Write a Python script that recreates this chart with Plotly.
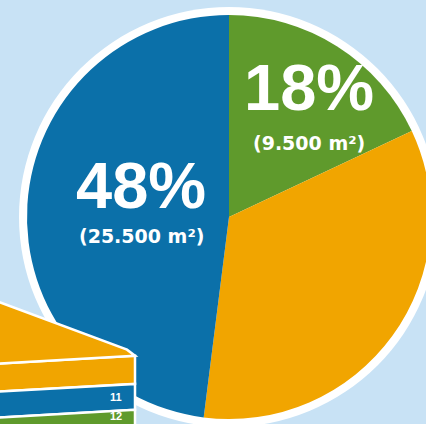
import plotly.graph_objects as go

# ---- data ----
slice_names = ["Green", "Orange", "Blue"]
slice_percent = [18, 34, 48]
slice_area_m2 = [9500, 18000, 25500]
slice_colors = ["#5f9a2c", "#f1a500", "#0b70a9"]
show_label = [True, False, True]

# stacked block fragment (bottom-left), top to bottom
block_names = ["Orange", "Blue", "Green"]
block_values = [12, 11, 12]
block_labels = ["", "11", "12"]
block_colors = ["#f1a500", "#0b70a9", "#5f9a2c"]

W, H = 438, 424   # slightly wider than the 426px window: the pie is cut at the right edge
BG = "#c8e2f5"
Y_MIN, Y_MAX = 5.9, 58.8


def px(x):
    return x / W


def py(y):
    return 1 - y / H


fig = go.Figure()

# pie
cx, cy, r = 229, 217, 202
fig.add_trace(go.Pie(
    labels=slice_names,
    values=slice_percent,
    marker=dict(colors=slice_colors, line=dict(width=0)),
    sort=False,
    direction="clockwise",
    rotation=0,
    textinfo="none",
    hoverinfo="skip",
    showlegend=False,
    domain=dict(x=[px(cx - r), px(cx + r)], y=[py(cy + r), py(cy - r)]),
))

shapes = []
# white ring behind the pie
ro = 210
shapes.append(dict(type="circle", xref="paper", yref="paper", layer="below",
                   x0=px(cx - ro), x1=px(cx + ro), y0=py(cy + ro), y1=py(cy - ro),
                   fillcolor="white", line=dict(width=0)))

annotations = []
label_pos = {  # centre positions in pixels for the two visible labels
    "Green": (309, 87, 143),
    "Blue": (141, 185, 236),
}
for name, pct, area, show in zip(slice_names, slice_percent, slice_area_m2, show_label):
    if not show:
        continue
    x, y1, y2 = label_pos[name]
    annotations.append(dict(x=px(x), y=py(y1), xref="paper", yref="paper",
                            text=f"<b>{pct}%</b>", showarrow=False,
                            font=dict(family="Liberation Sans", size=65, color="white"),
                            xanchor="center", yanchor="middle"))
    area_txt = f"{area:,}".replace(",", ".")
    annotations.append(dict(x=px(x), y=py(y2), xref="paper", yref="paper",
                            text=f"<b>({area_txt} m²)</b>", showarrow=False,
                            font=dict(family="DejaVu Sans", size=19, color="white"),
                            xanchor="center", yanchor="middle"))

# stacked block drawn on its own (hidden) axes so layers use the library's scale
bx1 = 135          # right edge of block in x-axis units
skew = 3.4         # left side lower than right (perspective)
top = sum(block_values)
level = top
for i, (name, val, lab, col) in enumerate(zip(block_names, block_values, block_labels, block_colors)):
    y_hi, y_lo = level, level - val
    shapes.append(dict(type="path", xref="x", yref="y", layer="above",
                       path=f"M -5,{y_hi - skew} L {bx1},{y_hi} L {bx1},{y_lo} L -5,{y_lo - skew} Z",
                       fillcolor=col, line=dict(color="white", width=2.5)))
    if lab:
        last = i == len(block_values) - 1
        annotations.append(dict(x=bx1 - 11,
                                y=max((y_hi + y_lo) / 2, Y_MIN + 0.15),
                                xref="x", yref="y",
                                text=f"<b>{lab}</b>", showarrow=False,
                                font=dict(family="Liberation Sans", size=11, color="white"),
                                xanchor="right", yanchor="bottom" if last else "middle"))
    level = y_lo

# top face of the block
shapes.append(dict(type="path", xref="x", yref="y", layer="above",
                   path=f"M -5,{58.6} L 127,{37.6} L {bx1},{top} L -5,{top - skew} Z",
                   fillcolor=block_colors[0], line=dict(color="white", width=2.5)))

fig.add_trace(go.Scatter(x=[0], y=[top], mode="markers", marker=dict(opacity=0),
                         hoverinfo="skip", showlegend=False, xaxis="x", yaxis="y"))

fig.update_layout(
    width=W, height=H,
    margin=dict(l=0, r=0, t=0, b=0),
    paper_bgcolor=BG,
    plot_bgcolor="rgba(0,0,0,0)",
    shapes=shapes,
    annotations=annotations,
    xaxis=dict(domain=[0, px(150)], range=[0, 150], visible=False, fixedrange=True),
    yaxis=dict(domain=[0, py(300)], range=[Y_MIN, Y_MAX], visible=False, fixedrange=True),
)

fig.write_html("out.html", config={"displayModeBar": False},
               post_script="document.body.style.margin='0';document.body.style.overflow='hidden';")
